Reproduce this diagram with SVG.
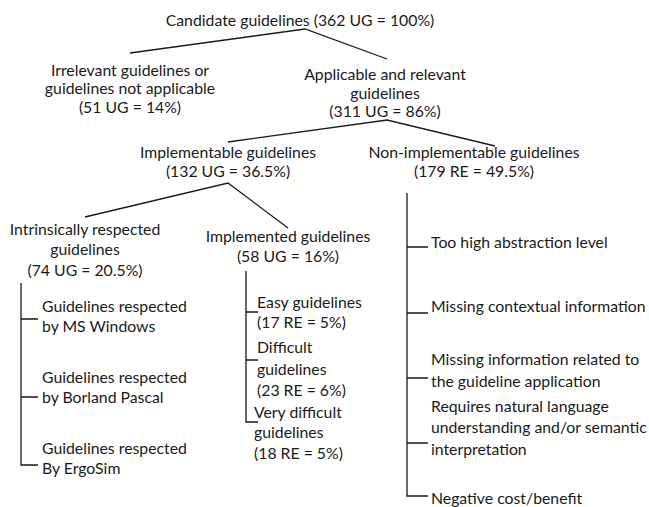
<svg xmlns="http://www.w3.org/2000/svg" width="649" height="507" viewBox="0 0 649 507">
<style>
text{font-family:Lato,"Liberation Sans",sans-serif;font-size:15.8px;fill:#1a1a1a}
.c{text-anchor:middle}
.ln{fill:none;stroke:#1a1a1a;stroke-width:1.3}
</style>
<rect width="649" height="507" fill="#fff"/>
<g id="connectors" class="ln">
<polyline points="130,53 305,29 387,59"/>
<polyline points="228,142 387,120 495,146"/>
<polyline points="85,217 228,183 288,228"/>
<polyline points="21,283 21,465 38,465"/>
<path d="M21,319H38M21,397H38"/>
<polyline points="246,271 246,422 258,422"/>
<path d="M246,312H258M246,360H258"/>
<polyline points="407,193 407,496 428,496"/>
<path d="M407,247H428M407,313H428M407,378H428M407,443H428"/>
</g>
<g id="candidate"><text class="c" x="300" y="26">Candidate guidelines (362 UG = 100%)</text></g>
<g id="irrelevant"><text class="c" x="130" y="75.5">Irrelevant guidelines or</text><text class="c" x="130" y="94">guidelines not applicable</text><text class="c" x="130" y="112.5">(51 UG = 14%)</text></g>
<g id="applicable"><text class="c" x="385" y="80">Applicable and relevant</text><text class="c" x="385" y="98.5">guidelines</text><text class="c" x="385" y="117">(311 UG = 86%)</text></g>
<g id="implementable"><text class="c" x="228" y="158">Implementable guidelines</text><text class="c" x="228" y="176.5">(132 UG = 36.5%)</text></g>
<g id="nonimpl"><text class="c" x="474" y="158">Non-implementable guidelines</text><text class="c" x="474" y="177">(179 RE = 49.5%)</text></g>
<g id="intrinsic"><text class="c" x="85" y="235">Intrinsically respected</text><text class="c" x="85" y="255">guidelines</text><text class="c" x="85" y="276">(74 UG = 20.5%)</text></g>
<g id="implemented"><text class="c" x="288" y="242">Implemented guidelines</text><text class="c" x="288" y="262">(58 UG = 16%)</text></g>
<g id="ms"><text x="42" y="312">Guidelines respected</text><text x="42" y="332">by MS Windows</text></g>
<g id="borland"><text x="42" y="383">Guidelines respected</text><text x="42" y="403">by Borland Pascal</text></g>
<g id="ergosim"><text x="42" y="454">Guidelines respected</text><text x="42" y="474">By ErgoSim</text></g>
<g id="easy"><text x="257" y="308">Easy guidelines</text><text x="257" y="328">(17 RE = 5%)</text></g>
<g id="difficult"><text x="257" y="353">Difficult</text><text x="257" y="374.5">guidelines</text><text x="257" y="396">(23 RE = 6%)</text></g>
<g id="verydifficult"><text x="254" y="418">Very difficult</text><text x="254" y="438">guidelines</text><text x="254" y="459">(18 RE = 5%)</text></g>
<g id="abstraction"><text x="431" y="248">Too high abstraction level</text></g>
<g id="contextual"><text x="431" y="312">Missing contextual information</text></g>
<g id="application"><text x="431" y="365">Missing information related to</text><text x="431" y="387">the guideline application</text></g>
<g id="natural"><text x="431" y="412">Requires natural language</text><text x="431" y="433">understanding and/or semantic</text><text x="431" y="455">interpretation</text></g>
<g id="cost"><text x="431" y="504">Negative cost/benefit</text></g>
</svg>
